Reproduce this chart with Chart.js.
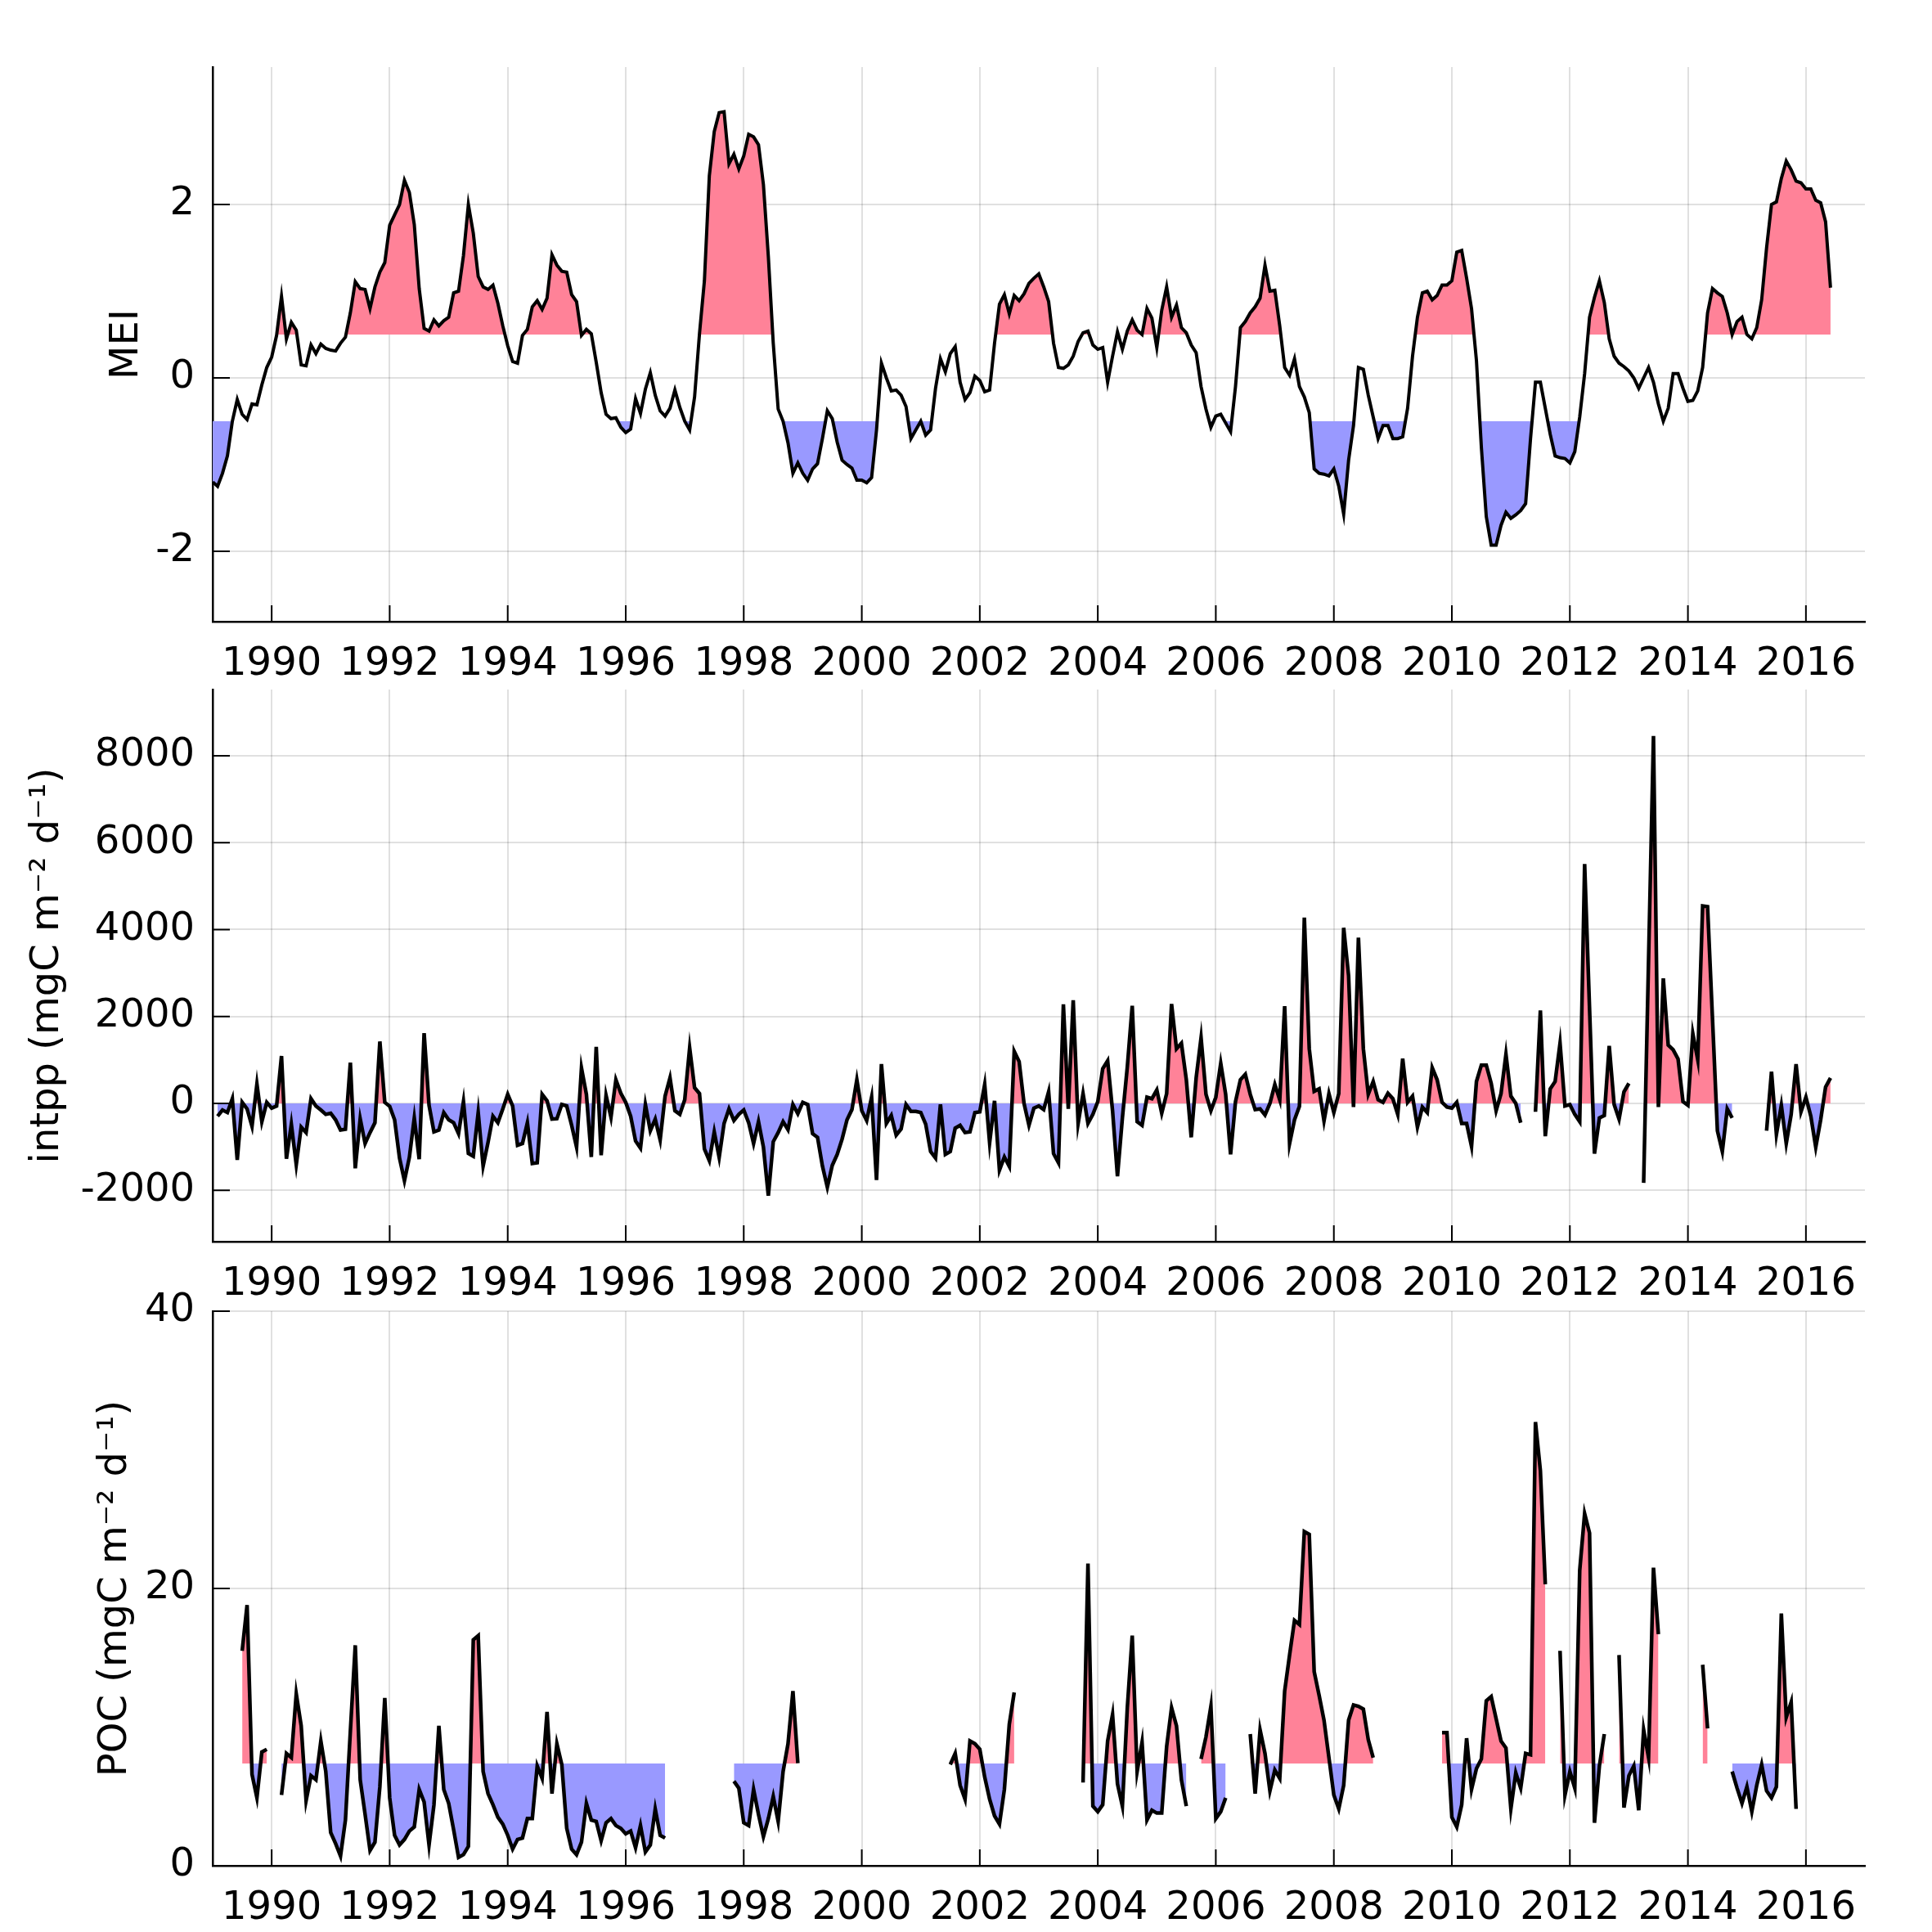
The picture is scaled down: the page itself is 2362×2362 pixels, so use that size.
<!DOCTYPE html>
<html>
<head>
<meta charset="utf-8">
<script src="https://cdn.jsdelivr.net/npm/chart.js@4.4.1/dist/chart.umd.min.js"></script>
<style>
  html, body { margin: 0; padding: 0; background: #fff; }
  #wrap { position: relative; width: 2362px; height: 2362px; overflow: hidden; }
  canvas { position: absolute; left: 0; }
</style>
</head>
<body>
<div id="wrap">
  <canvas id="meiChart" width="2362" height="840" style="top:0px"></canvas>
  <canvas id="intppChart" width="2362" height="820" style="top:780px"></canvas>
  <canvas id="pocChart" width="2362" height="822" style="top:1540px"></canvas>
</div>
<script>
// monthly series, first value = Jan 1989
const startYear = 1989;

const yearTicks = [1990, 1992, 1994, 1996, 1998, 2000, 2002, 2004, 2006, 2008, 2010, 2012, 2014, 2016];
const meiTicks = [-2, 0, 2];
const intppTicks = [-2000, 0, 2000, 4000, 6000, 8000];
const pocTicks = [0, 20, 40];

// fill reference levels
const meiHigh = 0.5;
const meiLow = -0.5;
const intppRef = 0;
const pocRef = 7.375;

const meiValues = [
  -1.2, -1.25, -1.1, -0.9, -0.5, -0.25, -0.42, -0.48, -0.3, -0.31, -0.08, 0.12,   // 1989
  0.24, 0.49, 0.94, 0.45, 0.64, 0.55, 0.15, 0.14, 0.38, 0.28, 0.39, 0.34,          // 1990
  0.32, 0.31, 0.40, 0.47, 0.75, 1.11, 1.03, 1.02, 0.80, 1.05, 1.22, 1.33,          // 1991
  1.76, 1.88, 2.00, 2.28, 2.14, 1.77, 1.03, 0.57, 0.54, 0.67, 0.60, 0.66,          // 1992
  0.70, 0.98, 1.00, 1.41, 2.00, 1.67, 1.17, 1.05, 1.02, 1.07, 0.86, 0.60,          // 1993
  0.37, 0.19, 0.17, 0.49, 0.56, 0.82, 0.89, 0.79, 0.92, 1.42, 1.30, 1.23,          // 1994
  1.22, 0.96, 0.88, 0.49, 0.56, 0.51, 0.18, -0.17, -0.42, -0.47, -0.46, -0.57,     // 1995
  -0.63, -0.59, -0.24, -0.41, -0.13, 0.06, -0.20, -0.38, -0.44, -0.35, -0.14, -0.34, // 1996
  -0.50, -0.60, -0.22, 0.51, 1.12, 2.33, 2.84, 3.06, 3.07, 2.47, 2.58, 2.41,       // 1997
  2.56, 2.81, 2.78, 2.69, 2.23, 1.4, 0.4, -0.36, -0.5, -0.75, -1.1, -0.98,         // 1998
  -1.1, -1.18, -1.05, -0.99, -0.7, -0.38, -0.47, -0.74, -0.95, -1.0, -1.04, -1.18, // 1999
  -1.18, -1.21, -1.15, -0.6, 0.17, 0.0, -0.15, -0.14, -0.2, -0.33, -0.7, -0.6,     // 2000
  -0.5, -0.66, -0.6, -0.12, 0.22, 0.07, 0.28, 0.36, -0.05, -0.25, -0.17, 0.02,     // 2001
  -0.03, -0.16, -0.14, 0.4, 0.85, 0.96, 0.74, 0.95, 0.89, 0.97, 1.09, 1.15,        // 2002
  1.2, 1.05, 0.88, 0.4, 0.12, 0.11, 0.15, 0.25, 0.42, 0.52, 0.54, 0.38,            // 2003
  0.33, 0.35, -0.05, 0.25, 0.53, 0.33, 0.54, 0.67, 0.55, 0.5, 0.8, 0.69,           // 2004
  0.35, 0.78, 1.05, 0.7, 0.84, 0.58, 0.52, 0.38, 0.29, -0.1, -0.36, -0.57,         // 2005
  -0.44, -0.42, -0.52, -0.62, -0.1, 0.58, 0.65, 0.75, 0.82, 0.92, 1.3, 1.0,        // 2006
  1.01, 0.6, 0.12, 0.03, 0.22, -0.1, -0.22, -0.4, -1.05, -1.1, -1.11, -1.13,       // 2007
  -1.05, -1.25, -1.57, -0.95, -0.55, 0.12, 0.1, -0.2, -0.45, -0.7, -0.55, -0.55,   // 2008
  -0.7, -0.7, -0.68, -0.35, 0.25, 0.7, 0.98, 1.0, 0.9, 0.95, 1.07, 1.07,           // 2009
  1.12, 1.45, 1.47, 1.15, 0.8, 0.2, -0.8, -1.6, -1.93, -1.93, -1.7, -1.55,         // 2010
  -1.62, -1.58, -1.53, -1.45, -0.7, -0.05, -0.05, -0.35, -0.65, -0.9, -0.92, -0.93, // 2011
  -0.98, -0.85, -0.45, 0.05, 0.7, 0.93, 1.12, 0.87, 0.45, 0.25, 0.17, 0.13,        // 2012
  0.08, 0.0, -0.12, 0.0, 0.12, -0.05, -0.3, -0.5, -0.35, 0.05, 0.05, -0.12,        // 2013
  -0.27, -0.26, -0.15, 0.12, 0.75, 1.03, 0.98, 0.94, 0.75, 0.5, 0.65, 0.7,         // 2014
  0.5, 0.45, 0.58, 0.9, 1.5, 2.0, 2.03, 2.3, 2.5, 2.4, 2.27, 2.25,                 // 2015
  2.18, 2.18, 2.05, 2.02, 1.8, 1.04                                                // 2016
];

const intppValues = [
  null, -294, -151, -210, 109, -1300, 25, -126, -528, 444, -419, 25,             // 1989
  -109, -59, 1090, -1275, -478, -1409, -545, -671, 109, -59, -151, -252,         // 1990
  -226, -377, -612, -595, 939, -1493, -352, -922, -671, -444, 1425, 25,          // 1991
  -67, -377, -1258, -1778, -1241, -335, -1283, 1618, -42, -654, -612, -210,      // 1992
  -377, -444, -696, 42, -1149, -1216, -210, -1442, -897, -294, -444, -126,       // 1993
  210, -59, -964, -922, -444, -1384, -1367, 210, 59, -361, -352, -25,            // 1994
  -59, -503, -1006, 813, 210, -1233, 1300, -1191, 184, -319, 545, 235,           // 1995
  25, -294, -864, -1031, -25, -629, -361, -839, 168, 587, -168, -252,            // 1996
  84, 1275, 361, 226, -1048, -1317, -654, -1241, -461, -126, -394, -252,         // 1997
  -151, -444, -922, -419, -1006, -2122, -881, -671, -419, -604, -25, -235,       // 1998
  25, -25, -696, -780, -1442, -1929, -1426, -1174, -822, -377, -143, 545,        // 1999
  -168, -394, 143, -1761, 906, -461, -277, -730, -587, -25, -184, -184,          // 2000
  -210, -478, -1107, -1258, -25, -1174, -1107, -570, -503, -671, -654, -210,     // 2001
  -193, 436, -906, 59, -1535, -1233, -1451, 1199, 964, 0, -503, -109,            // 2002
  -59, -143, 268, -1157, -1367, 2281, -126, 2373, -461, 226, -461, -252,         // 2003
  42, 797, 981, -168, -1677, -335, 839, 2247, -419, -503, 143, 109,              // 2004
  310, -226, 226, 2289, 1258, 1384, 545, -780, 587, 1509, 210, -168,             // 2005
  143, 922, 210, -1174, 42, 545, 671, 210, -143, -126, -268, 0,                  // 2006
  436, 84, 2239, -922, -377, -67, 4277, 1258, 277, 335, -403, 226,               // 2007
  -210, 226, 4042, 2935, -84, 3816, 1258, 210, 503, 84, 25, 235,                 // 2008
  109, -252, 1031, 25, 168, -545, -84, -210, 822, 545, 25, -84,                  // 2009
  -109, 25, -461, -461, -990, 503, 881, 881, 461, -168, 226, 1132,               // 2010
  168, 0, -444, null, null, -193, 2138, -755, 335, 503, 1384, -59,               // 2011
  -25, -252, -419, 5510, 2180, -1157, -335, -277, 1325, -25, -361, 268,          // 2012
  461, null, null, -1828, 3300, 8453, -84, 2876, 1342, 1233, 1023, 42,           // 2013
  -42, 1610, 1006, 4545, 4528, 1950, -629, -1107, -126, -335, null, null,        // 2014
  null, null, null, null, -629, 730, -713, -42, -922, -252, 906, -193,           // 2015
  143, -294, -1006, -377, 377, 587                                               // 2016
];

const pocValues = [
  null, null, null, null, null, null, 15.5, 18.8, 6.6, 4.9, 8.2, 8.4,            // 1989
  null, null, 5.1, 8.1, 7.8, 12.4, 10.1, 4.7, 6.5, 6.2, 9.0, 6.8,                // 1990
  2.4, 1.6, 0.7, 3.3, 9.7, 15.9, 6.2, 3.7, 1.1, 1.7, 5.7, 12.1,                  // 1991
  4.9, 2.2, 1.5, 1.9, 2.5, 2.8, 5.5, 4.6, 1.5, 4.4, 10.1, 5.5,                   // 1992
  4.5, 2.6, 0.6, 0.8, 1.4, 16.3, 16.6, 6.8, 5.2, 4.4, 3.5, 3.0,                  // 1993
  2.2, 1.2, 1.9, 2.0, 3.4, 3.4, 7.2, 6.3, 11.1, 5.2, 8.8, 7.3,                   // 1994
  2.7, 1.2, 0.8, 1.7, 4.5, 3.3, 3.2, 1.8, 3.1, 3.4, 2.9, 2.7,                    // 1995
  2.3, 2.5, 1.3, 2.9, 1.0, 1.5, 4.1, 2.2, 2.0, null, null, null,                 // 1996
  null, null, null, null, null, null, null, null, null, null, 6.1, 5.6,          // 1997
  3.1, 2.9, 5.5, 3.7, 2.1, 3.4, 5.0, 3.2, 6.8, 8.8, 12.6, 7.4,                   // 1998
  null, null, null, null, null, null, null, null, null, null, null, null,        // 1999
  null, null, null, null, null, null, null, null, null, null, null, null,        // 2000
  null, null, null, null, null, null, 7.3, 8.1, 5.8, 4.8, 9.0, 8.8,              // 2001
  8.4, 6.4, 4.8, 3.6, 3.0, 5.5, 10.2, 12.5, null, null, null, null,              // 2002
  null, null, null, null, null, null, null, null, null, 6.0, 21.8, 4.3,          // 2003
  3.9, 4.4, 9.0, 10.9, 5.9, 4.3, 11.4, 16.6, 6.8, 8.9, 3.3, 4.0,                 // 2004
  3.8, 3.8, 8.6, 11.4, 10.1, 6.2, 4.3, null, null, 7.7, 9.3, 11.5,               // 2005
  3.4, 3.9, 4.9, null, null, null, null, 9.5, 5.2, 9.8, 8.1, 5.4,                // 2006
  6.9, 6.3, 12.6, 15.2, 17.7, 17.4, 24.1, 23.9, 14.0, 12.3, 10.5, 7.8,           // 2007
  5.1, 4.1, 5.8, 10.5, 11.6, 11.5, 11.3, 9.1, 7.8, null, null, null,             // 2008
  null, null, null, null, null, null, null, null, null, null, 9.6, 9.6,          // 2009
  3.5, 2.8, 4.4, 9.2, 5.5, 7.0, 7.7, 11.9, 12.2, 10.6, 9.0, 8.5,                 // 2010
  4.1, 6.7, 5.6, 8.1, 8.0, 32.0, 28.5, 20.3, null, null, 15.5, 5.1,              // 2011
  6.8, 5.6, 21.3, 25.4, 24.0, 3.1, 7.2, 9.5, null, null, 15.2, 4.2,              // 2012
  6.5, 7.2, 4.0, 9.8, 7.8, 21.5, 16.7, null, null, null, null, null,             // 2013
  null, null, null, 14.5, 9.9, null, null, null, null, 6.8, 5.6, 4.5,            // 2014
  5.7, 3.9, 5.8, 7.3, 5.4, 4.9, 5.7, 18.2, 10.7, 11.8, 4.1                       // 2015
];

const RED = 'rgb(255,130,152)';
const BLUE = 'rgb(153,153,255)';
const NONE = 'rgba(0,0,0,0)';
const FONT = { family: 'DejaVu Sans', size: 48, lineHeight: 1.2 };

function toPoints(values) {
  return values.map((v, i) => ({ x: startYear + i / 12, y: v }));
}

// Plots-style ticks pointing into the plot area
const innerTicks = {
  id: 'innerTicks',
  afterDraw(chart) {
    const { ctx, chartArea, scales } = chart;
    ctx.save();
    ctx.strokeStyle = '#000';
    ctx.lineWidth = 2;
    ctx.beginPath();
    scales.x.ticks.forEach(t => {
      const px = scales.x.getPixelForValue(t.value);
      ctx.moveTo(px, chartArea.bottom);
      ctx.lineTo(px, chartArea.bottom - 20);
    });
    scales.y.ticks.forEach(t => {
      const py = scales.y.getPixelForValue(t.value);
      ctx.moveTo(chartArea.left, py);
      ctx.lineTo(chartArea.left + 21, py);
    });
    ctx.stroke();
    ctx.restore();
  }
};

function makePanel(id, cfg) {
  const pts = toPoints(cfg.values);
  const datasets = [{
    data: pts,
    borderColor: '#000',
    borderWidth: cfg.lineWidth,
    fill: false,
    pointRadius: 0,
    spanGaps: false
  }];
  cfg.fills.forEach(f => {
    datasets.push({
      data: pts,
      borderWidth: 0,
      borderColor: NONE,
      pointRadius: 0,
      spanGaps: false,
      fill: { target: { value: f.level }, above: f.above, below: f.below }
    });
  });

  return new Chart(document.getElementById(id), {
    type: 'line',
    data: { datasets },
    plugins: [innerTicks],
    options: {
      responsive: false,
      animation: false,
      devicePixelRatio: 1,
      layout: { padding: { top: cfg.padTop, right: 82, left: 0, bottom: 0 } },
      plugins: { legend: { display: false }, tooltip: { enabled: false } },
      elements: { line: { tension: 0 } },
      scales: {
        x: {
          type: 'linear',
          min: 1989,
          max: 2017,
          afterBuildTicks: s => { s.ticks = yearTicks.map(v => ({ value: v })); },
          afterFit: s => { s.height = cfg.xHeight; },
          ticks: { font: FONT, color: '#000', padding: 24, autoSkip: false, maxRotation: 0,
                   callback: v => String(v) },
          grid: { color: 'rgba(0,0,0,0.12)', lineWidth: 2, drawTicks: false },
          border: { display: true, color: '#000', width: 2.5 }
        },
        y: {
          type: 'linear',
          min: cfg.yMin,
          max: cfg.yMax,
          afterBuildTicks: s => { s.ticks = cfg.yTicks.map(v => ({ value: v })); },
          afterFit: s => { s.width = 260; },
          ticks: { font: FONT, color: '#000', padding: 22, callback: v => String(v) },
          grid: { color: 'rgba(0,0,0,0.12)', lineWidth: 2, drawTicks: false },
          border: { display: true, color: '#000', width: 2.5 },
          title: { display: true, text: cfg.title, font: FONT, color: '#000',
                   padding: { top: cfg.titlePad, bottom: 0 } }
        }
      }
    }
  });
}

makePanel('meiChart', {
  values: meiValues, lineWidth: 4,
  fills: [
    { level: meiHigh, above: RED, below: NONE },
    { level: meiLow, above: NONE, below: BLUE }
  ],
  yMin: -2.8113, yMax: 3.5849, yTicks: meiTicks,
  padTop: 82, xHeight: 80, title: 'MEI', titlePad: 127
});

makePanel('intppChart', {
  values: intppValues, lineWidth: 4.5,
  fills: [{ level: intppRef, above: RED, below: BLUE }],
  yMin: -3181, yMax: 9524, yTicks: intppTicks,
  padTop: 63, xHeight: 82, title: 'intpp (mgC m\u207B\u00B2 d\u207B\u00B9)', titlePad: 30
});

makePanel('pocChart', {
  values: pocValues, lineWidth: 4.5,
  fills: [{ level: pocRef, above: RED, below: BLUE }],
  yMin: 0, yMax: 40, yTicks: pocTicks,
  padTop: 63, xHeight: 81, title: 'POC (mgC m\u207B\u00B2 d\u207B\u00B9)', titlePad: 113
});
</script>
</body>
</html>
